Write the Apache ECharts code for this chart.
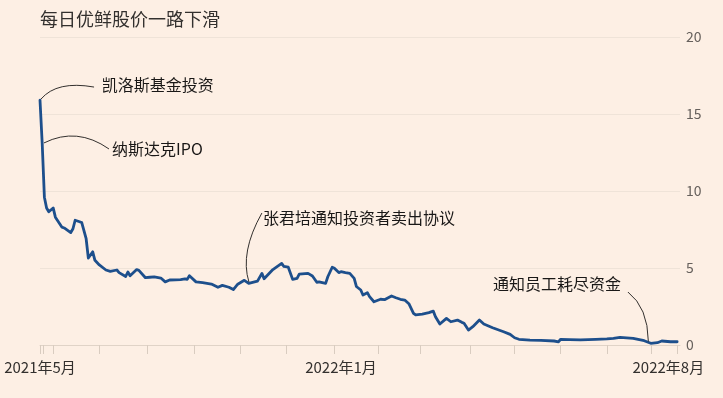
<!DOCTYPE html>
<html>
<head>
<meta charset="utf-8">
<script src="https://cdn.jsdelivr.net/npm/echarts@6/dist/echarts.min.js"></script>
<style>
html,body{margin:0;padding:0;background:#fdefe4;}
#c{width:723px;height:398px;}
</style>
</head>
<body>
<div id="c"></div>
<script>
// trading-day index since the first trading day shown
var tradingDay = [0,1,2,3,4,6,7,10,11,14,15,16,18,19,21,22,24,25,27,30,32,35,36,39,40,41,44,45,48,50,52,55,57,59,64,66,67,68,71,74,78,81,83,86,88,90,93,95,99,101,102,106,110,111,113,115,117,118,122,124,126,127,130,131,133,134,136,137,139,141,143,144,146,147,149,150,152,155,157,160,162,164,166,168,170,171,174,177,179,180,182,185,187,190,192,193,195,197,200,202,206,211,214,216,218,223,228,234,236,237,241,246,253,258,261,264,270,275,278,281,283,287,290];
// daily share price (US$)
var price = [15.9,13.1,9.6,8.9,8.65,8.9,8.3,7.65,7.6,7.3,7.55,8.1,8.0,7.95,6.9,5.65,6.05,5.5,5.2,4.87,4.78,4.87,4.7,4.45,4.74,4.5,4.9,4.85,4.37,4.4,4.42,4.35,4.1,4.22,4.25,4.3,4.26,4.5,4.1,4.05,3.96,3.75,3.87,3.75,3.6,3.95,4.2,4.0,4.15,4.65,4.3,4.9,5.3,5.1,5.05,4.26,4.33,4.6,4.65,4.48,4.07,4.1,4.0,4.43,5.05,4.98,4.7,4.76,4.7,4.65,4.33,3.8,3.57,3.25,3.4,3.14,2.81,2.97,2.95,3.18,3.07,2.97,2.92,2.66,2.06,1.95,2.0,2.1,2.2,1.84,1.36,1.73,1.51,1.62,1.47,1.41,0.97,1.19,1.62,1.36,1.12,0.86,0.69,0.47,0.37,0.32,0.3,0.26,0.21,0.37,0.35,0.33,0.37,0.4,0.43,0.5,0.43,0.28,0.11,0.15,0.26,0.21,0.21];
// month-start ticks (trading-day index)
var monthTicks = [0,1.5,6,27,49,70,91,112,134,154,173,196,216,237,258,278,290];
var xLabelDays = [0,137,286];
var xLabelTexts = ['2021年5月','2022年1月','2022年8月'];
var yTicks = [0,5,10,15,20];
var titleText = '每日优鲜股价一路下滑';
// annotations: from (on line), ctrl, end, label anchor — all in data coords
var annoTexts = ['凯洛斯基金投资','纳斯达克IPO','张君培通知投资者卖出协议','通知员工耗尽资金'];
var annoFrom = [[0.45,15.97],[1.8,13.12],[95.1,4.09],[267.6,3.44]];
var annoCtrl = [[7.7,17.18],[16.8,14.19],[90.9,6.01],[276.7,2.44]];
var annoEnd = [[24.6,16.75],[31.4,12.73],[101,8.57],[276.9,0.23]];
var annoLabel = [[28.1,16.88],[32.8,12.73],[101.5,8.25],[206.2,3.98]];

var FONT = '"Noto Sans CJK SC","Noto Sans",sans-serif';
var chart = echarts.init(document.getElementById('c'));
var seriesData = tradingDay.map(function(d,i){return [d, price[i]];});
chart.setOption({
  backgroundColor:'#fdefe4',
  animation:false,
  title:{text:titleText,left:35,top:5,textStyle:{fontFamily:FONT,fontSize:18,fontWeight:'normal',color:'#33302e'}},
  grid:{left:40,right:43,top:37,bottom:53,containLabel:false,outerBoundsMode:'none'},
  xAxis:{
    type:'value',min:0,max:291.3,
    axisLine:{show:true,lineStyle:{color:'#e0d3c7',width:1}},
    axisTick:{show:true,length:9,customValues:monthTicks,lineStyle:{color:'#d9ccc0'}},
    axisLabel:{show:true,customValues:xLabelDays,margin:15,fontFamily:FONT,fontSize:15,color:'#33302e',
      formatter:function(v){var i=xLabelDays.indexOf(v);return i>=0?xLabelTexts[i]:'';}},
    splitLine:{show:false}
  },
  yAxis:{
    type:'value',position:'right',min:0,max:20,interval:5,
    axisLine:{show:false},axisTick:{show:false},
    axisLabel:{margin:6,fontFamily:FONT,fontSize:14,color:'#66605c'},
    splitLine:{show:true,lineStyle:{color:'#efe3d8',width:1}}
  },
  series:[{type:'line',data:seriesData,showSymbol:false,symbol:'none',
    lineStyle:{color:'#1d4f8c',width:2.8,join:'round',cap:'round'}}]
});

function px(p){return chart.convertToPixel({gridIndex:0},p);}
var g=[];
for(var i=0;i<annoTexts.length;i++){
  var a=px(annoFrom[i]),c=px(annoCtrl[i]),e=px(annoEnd[i]),l=px(annoLabel[i]);
  g.push({type:'bezierCurve',shape:{x1:a[0],y1:a[1],x2:e[0],y2:e[1],cpx1:c[0],cpy1:c[1]},
    style:{stroke:'#33302e',lineWidth:1,fill:null},z:10});
  g.push({type:'text',x:l[0],y:l[1],style:{text:annoTexts[i],font:'16px '+FONT,fill:'#1a1817',
    textAlign:'left',textVerticalAlign:'middle',verticalAlign:'middle'},z:10});
}
chart.setOption({graphic:g});
</script>
</body>
</html>
